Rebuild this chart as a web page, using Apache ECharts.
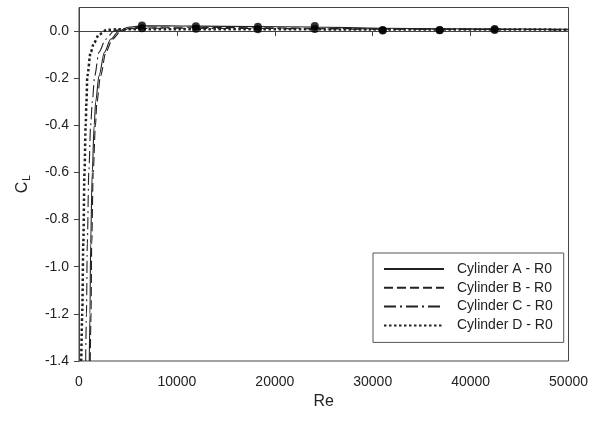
<!DOCTYPE html>
<html>
<head>
<meta charset="utf-8">
<script src="https://cdn.jsdelivr.net/npm/echarts@6/dist/echarts.min.js"></script>
<style>html,body{margin:0;padding:0;background:#fff}#c{width:591px;height:421px}</style>
</head>
<body>
<div id="c"></div>
<script>
const seriesNames = ['Cylinder A - R0', 'Cylinder B - R0', 'Cylinder C - R0', 'Cylinder D - R0'];
const cylA = [[1050,-1.4],[1120,-1.2],[1190,-0.9],[1350,-0.6],[1550,-0.4],[1700,-0.3],[2040,-0.19],[2600,-0.09],[3230,-0.035],[4080,0.0],[5000,0.016],[6400,0.022],[9000,0.022],[12000,0.021],[18000,0.019],[24000,0.017],[31000,0.012],[37000,0.01],[42000,0.009],[50000,0.008]];
const cylB = [[1150,-1.4],[1230,-1.2],[1300,-0.9],[1450,-0.6],[1680,-0.4],[1830,-0.3],[2200,-0.19],[2750,-0.09],[3400,-0.035],[4300,0.0],[5200,0.012],[6500,0.017],[12000,0.016],[18000,0.014],[24000,0.012],[31000,0.009],[37000,0.008],[42000,0.007],[50000,0.006]];
const cylC = [[680,-1.4],[760,-1.2],[850,-0.9],[1000,-0.6],[1190,-0.4],[1360,-0.3],[1600,-0.19],[2040,-0.09],[2720,-0.035],[3570,0.0],[4500,0.01],[8000,0.012],[18000,0.011],[30000,0.008],[50000,0.006]];
const cylD = [[230,-1.4],[330,-1.2],[440,-0.9],[560,-0.6],[680,-0.4],[760,-0.3],[850,-0.19],[1190,-0.09],[1530,-0.05],[2040,-0.014],[2860,0.005],[4000,0.008],[10000,0.008],[30000,0.007],[50000,0.006]];
const markUpper = [[6430,0.024],[11940,0.02],[18270,0.018],[24080,0.022],[31020,0.004],[36840,0.005],[42450,0.009]];
const markLower = [[6430,0.012],[11940,0.01],[18270,0.008],[24080,0.009],[31020,0.002],[36840,0.003],[42450,0.005]];
const xTicks = [0,10000,20000,30000,40000,50000];
const yTicks = [-1.4,-1.2,-1.0,-0.8,-0.6,-0.4,-0.2,0.0];

const lineCol = '#222';
const font = 'Liberation Sans, Arial, sans-serif';
const chart = echarts.init(document.getElementById('c'));
function lineSeries(name, data, type, width) {
  return { name, type: 'line', data, symbol: 'none', smooth: 0.3, smoothMonotone: 'x',
    lineStyle: { color: lineCol, width, type }, itemStyle: { color: lineCol }, z: 3 };
}
chart.setOption({
  animation: false,
  backgroundColor: '#fff',
  grid: { left: 79, right: 21, top: 7.5, bottom: 60, show: true, borderColor: '#444', borderWidth: 1, backgroundColor: 'transparent' },
  legend: {
    data: seriesNames, orient: 'vertical', left: 373, top: 253,
    itemWidth: 60, itemHeight: 14, itemGap: 4.8,
    itemStyle: { opacity: 0 },
    padding: [9, 11, 10, 10], borderColor: '#555', borderWidth: 1,
    textStyle: { fontFamily: font, fontSize: 14, color: '#222', padding: [0, 0, 0, 8] }
  },
  xAxis: {
    type: 'value', min: 0, max: 50000, interval: 10000,
    name: 'Re', nameLocation: 'middle', nameGap: 30,
    nameTextStyle: { fontFamily: font, fontSize: 16, color: '#222' },
    axisLine: { lineStyle: { color: '#444' } },
    axisTick: { show: true, length: 5, inside: false, lineStyle: { color: '#444' }, customValues: xTicks },
    axisLabel: { fontFamily: font, fontSize: 14, color: '#222', margin: 14, customValues: xTicks,
      formatter: v => String(v) },
    splitLine: { show: false }
  },
  yAxis: {
    type: 'value', min: -1.4, max: 0.1, interval: 0.2,
    name: '{c|C}{s|L}', nameLocation: 'middle', nameGap: 47, nameRotate: 90,
    nameTextStyle: { fontFamily: font, color: '#222',
      rich: { c: { fontFamily: font, fontSize: 16, color: '#222' },
              s: { fontFamily: font, fontSize: 10, color: '#222', verticalAlign: 'bottom', padding: [8, 0, 0, 1] } } },
    axisLine: { lineStyle: { color: '#444' } },
    axisTick: { show: true, length: 5, inside: false, lineStyle: { color: '#444' }, customValues: yTicks },
    axisLabel: { fontFamily: font, fontSize: 14, color: '#222', margin: 10, customValues: yTicks,
      formatter: v => v.toFixed(1) },
    splitLine: { show: false }
  },
  series: [
    lineSeries(seriesNames[0], cylA, 'solid', 1.1),
    lineSeries(seriesNames[1], cylB, [9, 4], 1.1),
    lineSeries(seriesNames[2], cylC, [12, 4, 2, 4], 1.1),
    lineSeries(seriesNames[3], cylD, [2.5, 2.5], 2.5),
    { type: 'scatter', data: markUpper, symbol: 'circle', symbolSize: 8, itemStyle: { color: '#000' }, z: 4 },
    { type: 'scatter', data: markLower, symbol: 'circle', symbolSize: 8, itemStyle: { color: '#000' }, z: 4 }
  ]
});
</script>
</body>
</html>
